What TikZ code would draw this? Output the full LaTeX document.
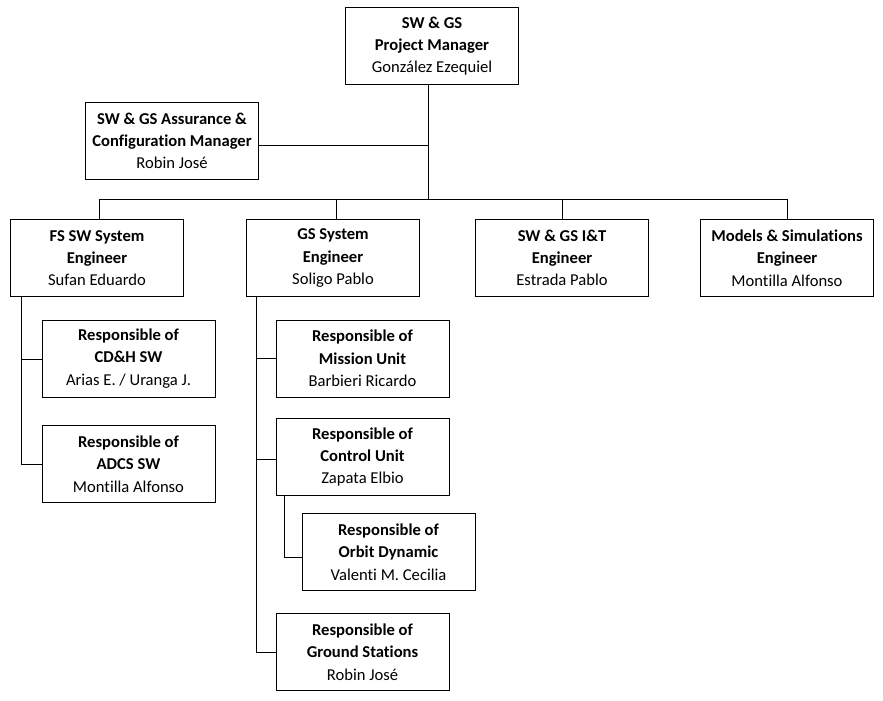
\documentclass[tikz,border=0pt]{standalone}
\usepackage{fontspec}
\setmainfont[Ligatures=NoCommon]{Carlito}
\begin{document}
\begin{tikzpicture}[x=1pt,y=1pt,
  box/.style={draw, line width=1pt, inner sep=0pt, align=center,
    minimum width=173, minimum height=77,
    font=\fontsize{16.6}{22.3}\selectfont},
  conn/.style={line width=1pt}]
\useasboundingbox (0,0) rectangle (883,-701);
\node[box] (pm) at (432,-46) {\textbf{SW \& GS}\\\textbf{Project Manager}\\González Ezequiel};
\node[box] (am) at (172,-141) {\textbf{SW \& GS Assurance \&}\\\textbf{Configuration Manager}\\Robin José};
\node[box] (fs) at (97,-258) {\textbf{FS SW System}\\\textbf{Engineer}\\Sufan Eduardo};
\node[box] (gs) at (333,-258) {\textbf{GS System}\\\textbf{Engineer}\\Soligo Pablo};
\node[box] (it) at (562,-258) {\textbf{SW \& GS I\&T}\\\textbf{Engineer}\\Estrada Pablo};
\node[box] (ms) at (787,-258) {\textbf{Models \& Simulations}\\\textbf{Engineer}\\Montilla Alfonso};
\node[box] (cd) at (128.5,-358.5) {\textbf{Responsible of}\\\textbf{CD\&H SW}\\Arias E. / Uranga J.};
\node[box] (ad) at (128.5,-464) {\textbf{Responsible of}\\\textbf{ADCS SW}\\Montilla Alfonso};
\node[box] (mu) at (362.5,-358.5) {\textbf{Responsible of}\\\textbf{Mission Unit}\\Barbieri Ricardo};
\node[box] (cu) at (362.5,-457) {\textbf{Responsible of}\\\textbf{Control Unit}\\Zapata Elbio};
\node[box] (od) at (388.5,-552) {\textbf{Responsible of}\\\textbf{Orbit Dynamic}\\Valenti M. Cecilia};
\node[box] (gst) at (362.5,-652) {\textbf{Responsible of}\\\textbf{Ground Stations}\\Robin José};
% coordinates
\coordinate (trunk) at (428,-199);
\coordinate (busL) at (99,-199);
\coordinate (busR) at (787,-199);
\coordinate (fsv) at (21,-297);
\coordinate (gsv) at (256,-297);
\coordinate (cuv) at (284,-496);
% connectors
\draw[conn] (pm.south -| trunk) -- (trunk);
\draw[conn] ([yshift=-4]am.east) -- ([yshift=-4]am.east -| trunk);
\draw[conn] (busL) -- (busR);
\draw[conn] (fs.north -| busL) -- (busL);
\draw[conn] ([xshift=3]gs.north) -- ([xshift=3]gs.north |- busL);
\draw[conn] (it.north) -- (it.north |- busL);
\draw[conn] (ms.north) -- (ms.north |- busL);
\draw[conn] (fs.south -| fsv) -- (fsv |- ad.west) -- (ad.west);
\draw[conn] ([yshift=-1]cd.west) -- ([yshift=-1]cd.west -| fsv);
\draw[conn] (gs.south -| gsv) -- (gsv |- gst.west) -- (gst.west);
\draw[conn] (mu.west) -- (mu.west -| gsv);
\draw[conn] ([yshift=-2]cu.west) -- ([yshift=-2]cu.west -| gsv);
\draw[conn] (cu.south -| cuv) -- ([yshift=-5]cuv |- od.west) -- ([yshift=-5]od.west);
\end{tikzpicture}
\end{document}
